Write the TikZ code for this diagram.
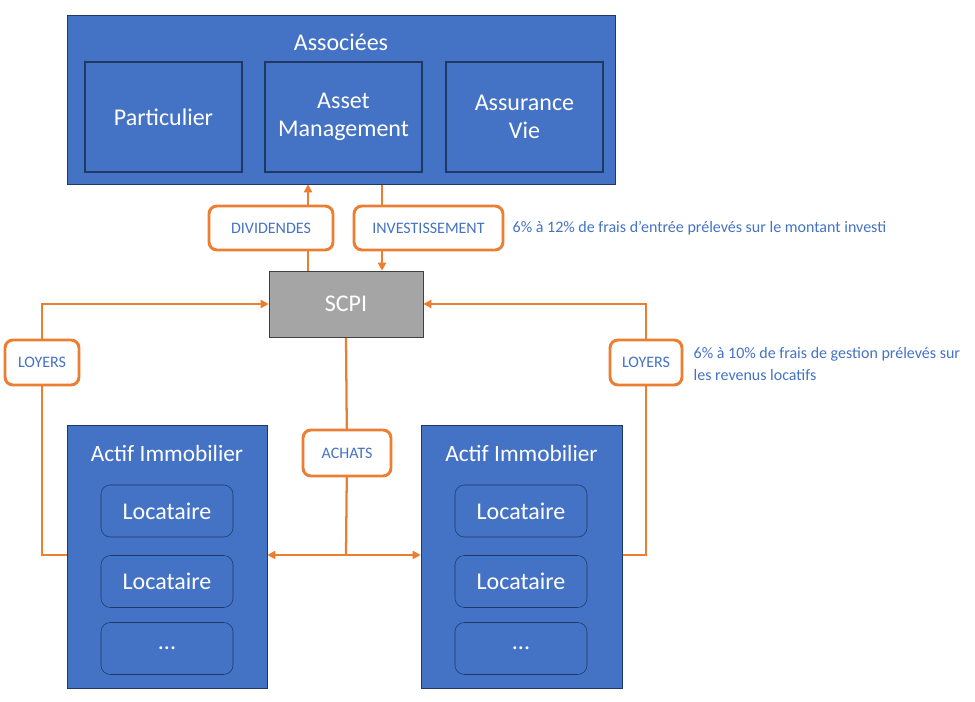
\documentclass[tikz,border=0pt]{standalone}
\usepackage{fontspec}
\setmainfont{Carlito}
\usetikzlibrary{arrows.meta,backgrounds}
\definecolor{bleu}{HTML}{4472C4}
\definecolor{marine}{HTML}{1F3864}
\definecolor{orange}{HTML}{ED7D31}
\definecolor{gris}{HTML}{A5A5A5}
\newcommand{\grand}{\fontsize{18}{21}\selectfont}
\newcommand{\petit}{\fontsize{12}{14}\selectfont}

\begin{document}
\begin{tikzpicture}[x=0.75pt, y=-0.75pt,
		bloc/.style={draw=marine, fill=bleu, text=white, inner sep=0pt},
		sousbloc/.style={draw=marine, line width=2pt, fill=bleu, text=white, align=center,
			minimum width=117.75pt, minimum height=82.5pt, font=\grand},
		locbox/.style={draw=marine, fill=bleu, text=white, rounded corners=7pt,
			minimum width=99pt, minimum height=39pt, font=\grand},
		etiquette/.style={draw=orange, line width=2.2pt, fill=white, text=bleu, rounded corners=6pt,
			minimum height=33pt, font=\petit},
		note/.style={text=bleu, font=\fontsize{12}{16.5}\selectfont, align=left},
		flow/.style={draw=orange, line width=1.7pt, >={Triangle[length=6pt,width=6pt]}}]
	\useasboundingbox (0,0) rectangle (975,702);
	% Associees
	\node[bloc, minimum width=411pt, minimum height=126.75pt] (assoc) at (341,99.5) {};
	\node[text=white, font=\grand] (assoctitre) at (341,42) {Associées};
	\node[sousbloc] (part) at (163.5,117) {Particulier};
	\node[sousbloc] (asset) at (343.5,117) {Asset\\Management};
	\node[sousbloc] (assur) at (524.5,117) {Assurance\\Vie};
	% SCPI
	\node[draw=black!75, fill=gris, text=white, minimum width=115.5pt, minimum height=49.5pt, font=\grand] (scpi) at (346,304) {SCPI};
	% actifs immobiliers
	\node[bloc, minimum width=150pt, minimum height=197.25pt] (actifG) at (167,556.5) {};
	\node[bloc, minimum width=150.75pt, minimum height=197.25pt] (actifD) at (521.5,556.5) {};
	\node[text=white, font=\fontsize{17.5}{20}\selectfont] (titreG) at (167,453) {Actif Immobilier};
	\node[text=white, font=\fontsize{17.5}{20}\selectfont] (titreD) at (521.5,453) {Actif Immobilier};
	\node[locbox] (locG1) at (167,511) {Locataire};
	\node[locbox] (locG2) at (167,581.5) {Locataire};
	\node[locbox] (locG3) at (167,648.5) {...};
	\node[locbox] (locD1) at (521,511) {Locataire};
	\node[locbox] (locD2) at (521,581.5) {Locataire};
	\node[locbox] (locD3) at (521,648.5) {...};
	% etiquettes
	\node[etiquette, minimum width=93pt] (div) at (271,228) {DIVIDENDES};
	\node[etiquette, minimum width=111.75pt] (inv) at (428.5,228) {INVESTISSEMENT};
	\node[etiquette, minimum width=55.5pt, minimum height=33.75pt] (loyG) at (42,362.5) {LOYERS};
	\node[etiquette, minimum width=54pt, minimum height=33.75pt] (loyD) at (646,362.5) {LOYERS};
	\node[etiquette, minimum width=66pt, minimum height=34.5pt] (achats) at (347,453) {ACHATS};
	% flux
	\coordinate (dx) at (308,0);
	\coordinate (ix) at (382,0);
	\coordinate (ya) at (0,555);
	\begin{scope}[on background layer]
		\draw[flow, ->] (scpi.north -| dx) -- (assoc.south -| dx);
		\draw[flow, ->] (assoc.south -| ix) -- (scpi.north -| ix);
		\draw[flow, ->] (actifG.west |- ya) -| (loyG.center) |- (scpi.west);
		\draw[flow, ->] (actifD.east |- ya) -| (loyD.center) |- (scpi.east);
		\draw[flow] (scpi.south) -- (achats.center) -- (scpi.south |- ya);
		\draw[flow, <->] (actifG.east |- ya) -- (actifD.west |- ya);
	\end{scope}
	% notes
	\node[note, anchor=west] (noteinv) at (508,228) {6\% à 12\% de frais d’entrée prélevés sur le montant investi};
	\node[note, anchor=west] (notegest) at (689,364) {6\% à 10\% de frais de gestion prélevés sur\\les revenus locatifs};
\end{tikzpicture}
\end{document}
